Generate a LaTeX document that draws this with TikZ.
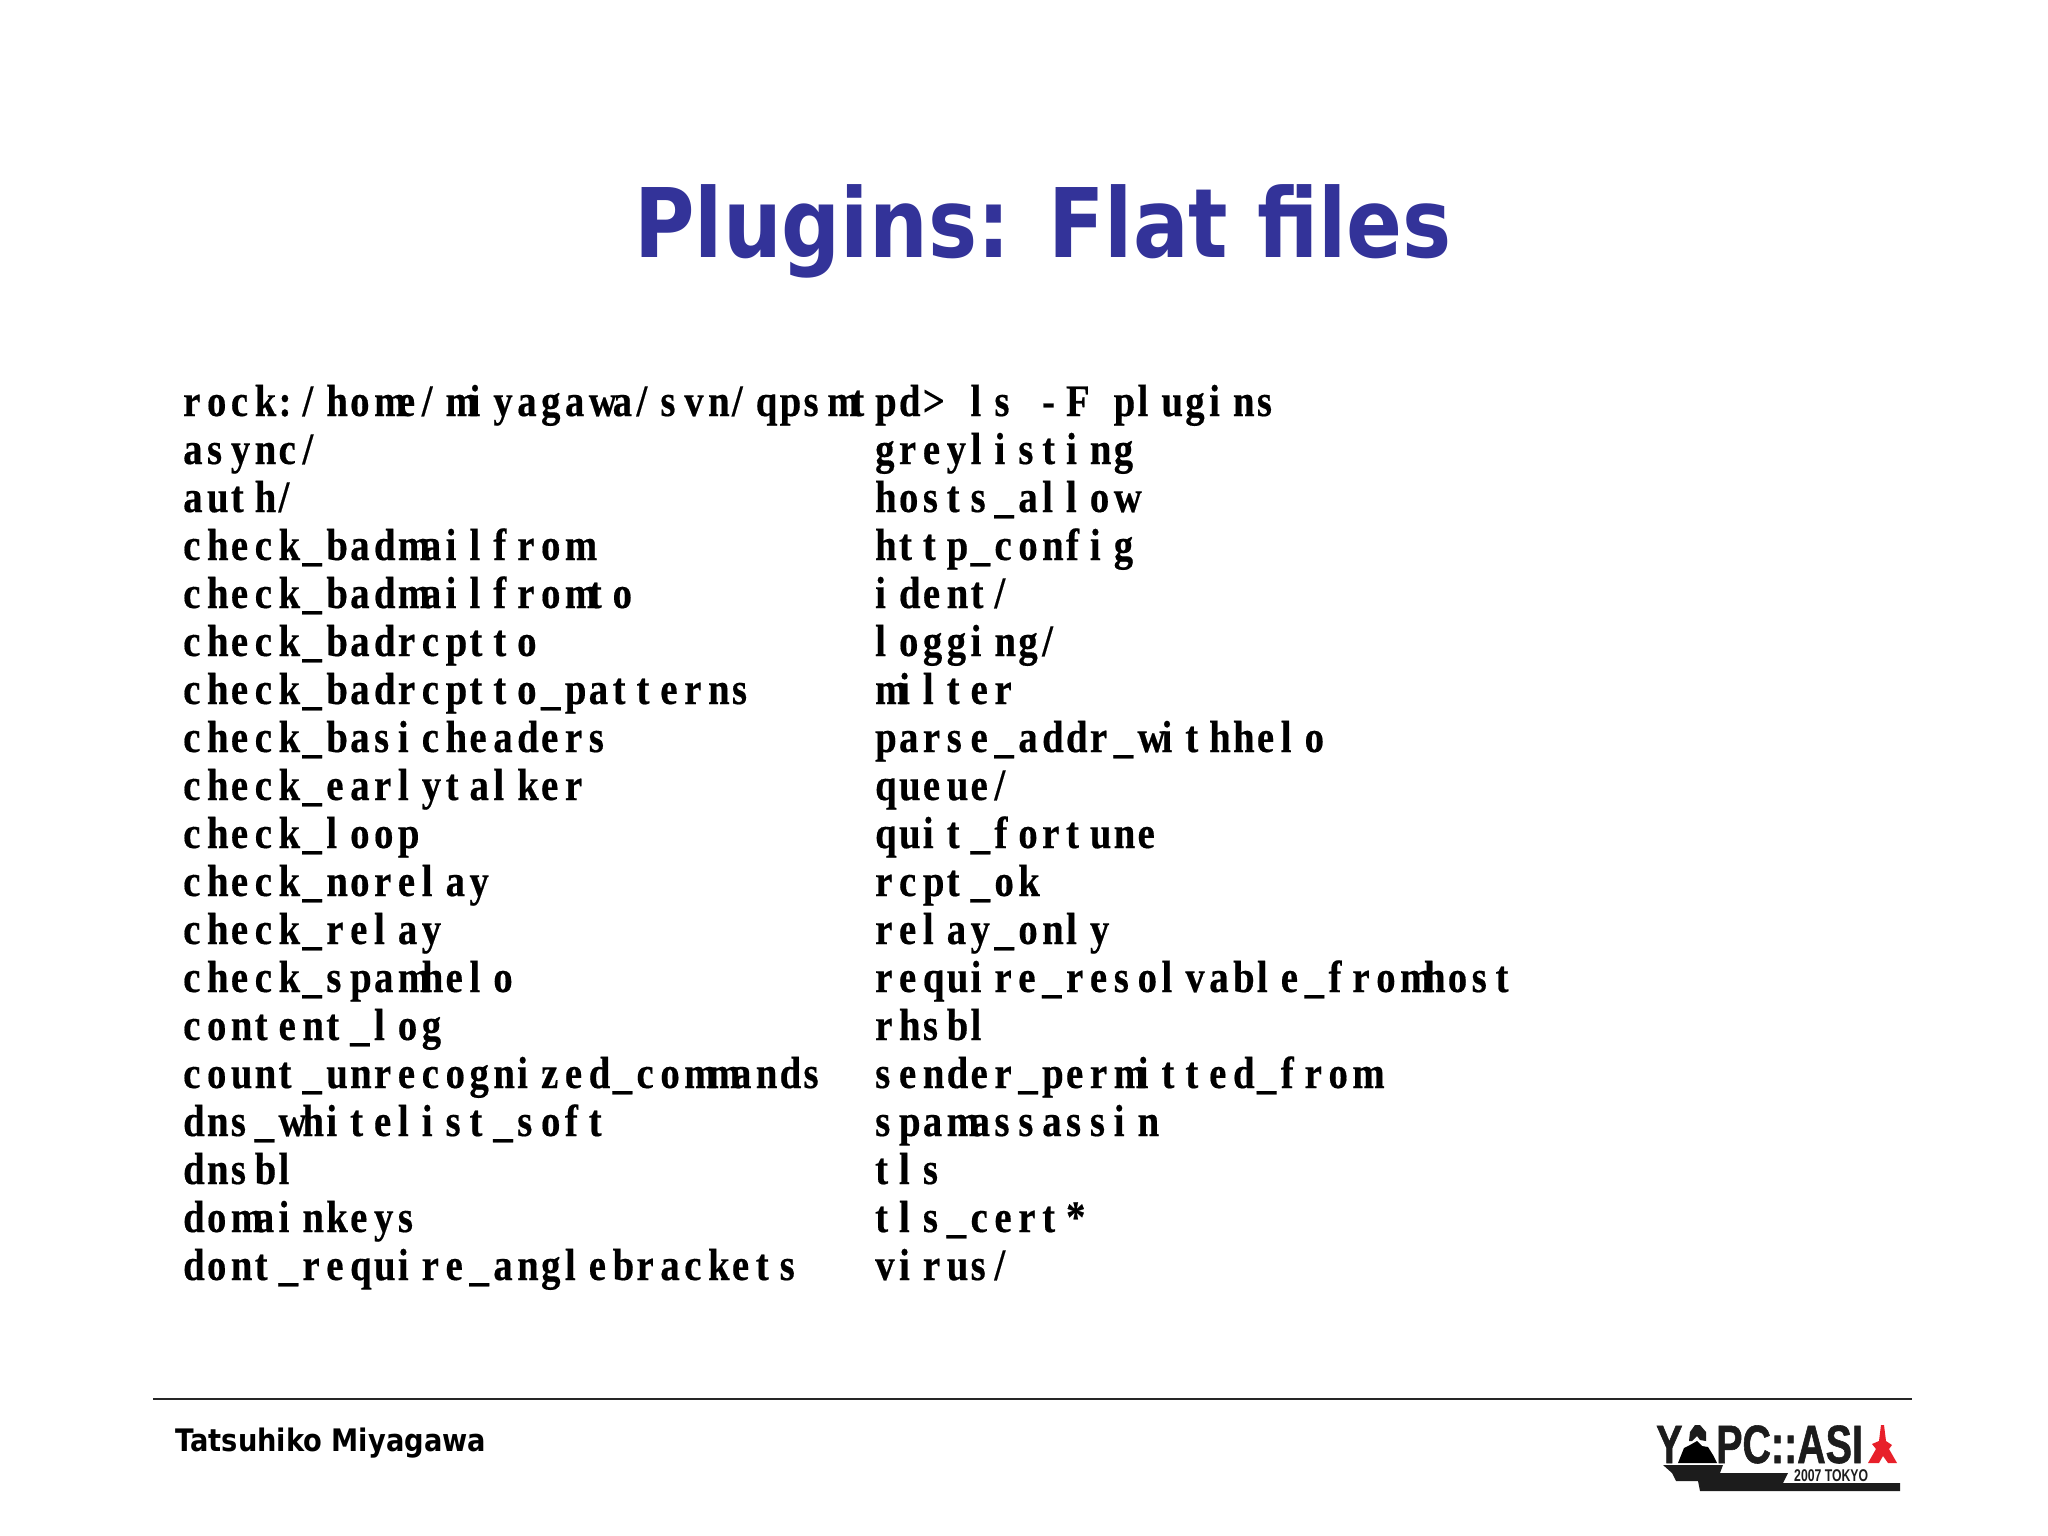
\documentclass[tikz,border=0pt]{standalone}
\usepackage{fontspec}
\usepackage{graphicx}
\setmainfont{Liberation Serif}
\newfontfamily\listfont[FakeStretch=0.86,FakeBold=0.4]{Liberation Serif Bold}
\newfontfamily\headfont[FakeStretch=0.86]{DejaVu Sans Bold}
\newfontfamily\footfont[FakeStretch=0.88]{DejaVu Sans Bold}
\newfontfamily\logofont[FakeStretch=0.73,FakeBold=1]{Liberation Sans Bold}
\newfontfamily\yearfont[FakeStretch=0.72]{Liberation Sans Bold}
\newlength\cellw
\setlength\cellw{23.86pt}
\ExplSyntaxOn
\NewDocumentCommand\cells{m}{\str_map_inline:nn{#1}{\makebox[\cellw][l]{##1}}}
\ExplSyntaxOff
\definecolor{titleblue}{HTML}{333399}
\definecolor{towerred}{HTML}{E8202A}
\definecolor{logoblack}{HTML}{1C1C1C}
\tikzset{
  listrow/.style={anchor=base west,inner sep=0pt,font=\listfont\fontsize{45}{48}\selectfont,text=black},
  titletext/.style={anchor=base,inner sep=0pt,font=\headfont\fontsize{96}{100}\selectfont,text=titleblue},
  foottext/.style={anchor=base west,inner sep=0pt,font=\footfont\fontsize{31}{36}\selectfont,text=black},
  logotext/.style={anchor=base west,inner sep=0pt,font=\logofont\fontsize{54}{56}\selectfont,text=logoblack},
  logosmall/.style={anchor=base west,inner sep=0pt,font=\yearfont\fontsize{17}{17}\selectfont,text=logoblack},
}
\begin{document}
\begin{tikzpicture}[x=1pt,y=-1pt]
\useasboundingbox[fill=white] (0,0) rectangle (2048,1536);
\node[titletext] (title) at (1043,257) {Plugins: Flat files};
\node[listrow] (h) at (183,416) {\cells{rock:/home/miyagawa/svn/qpsmtpd> ls -F plugins}};
\node[listrow] (a1) at (183,464) {\cells{async/}};
\node[listrow] (a2) at (183,512) {\cells{auth/}};
\node[listrow] (a3) at (183,560) {\cells{check_badmailfrom}};
\node[listrow] (a4) at (183,608) {\cells{check_badmailfromto}};
\node[listrow] (a5) at (183,656) {\cells{check_badrcptto}};
\node[listrow] (a6) at (183,704) {\cells{check_badrcptto_patterns}};
\node[listrow] (a7) at (183,752) {\cells{check_basicheaders}};
\node[listrow] (a8) at (183,800) {\cells{check_earlytalker}};
\node[listrow] (a9) at (183,848) {\cells{check_loop}};
\node[listrow] (a10) at (183,896) {\cells{check_norelay}};
\node[listrow] (a11) at (183,944) {\cells{check_relay}};
\node[listrow] (a12) at (183,992) {\cells{check_spamhelo}};
\node[listrow] (a13) at (183,1040) {\cells{content_log}};
\node[listrow] (a14) at (183,1088) {\cells{count_unrecognized_commands}};
\node[listrow] (a15) at (183,1136) {\cells{dns_whitelist_soft}};
\node[listrow] (a16) at (183,1184) {\cells{dnsbl}};
\node[listrow] (a17) at (183,1232) {\cells{domainkeys}};
\node[listrow] (a18) at (183,1280) {\cells{dont_require_anglebrackets}};
\node[listrow] (b1) at (875,464) {\cells{greylisting}};
\node[listrow] (b2) at (875,512) {\cells{hosts_allow}};
\node[listrow] (b3) at (875,560) {\cells{http_config}};
\node[listrow] (b4) at (875,608) {\cells{ident/}};
\node[listrow] (b5) at (875,656) {\cells{logging/}};
\node[listrow] (b6) at (875,704) {\cells{milter}};
\node[listrow] (b7) at (875,752) {\cells{parse_addr_withhelo}};
\node[listrow] (b8) at (875,800) {\cells{queue/}};
\node[listrow] (b9) at (875,848) {\cells{quit_fortune}};
\node[listrow] (b10) at (875,896) {\cells{rcpt_ok}};
\node[listrow] (b11) at (875,944) {\cells{relay_only}};
\node[listrow] (b12) at (875,992) {\cells{require_resolvable_fromhost}};
\node[listrow] (b13) at (875,1040) {\cells{rhsbl}};
\node[listrow] (b14) at (875,1088) {\cells{sender_permitted_from}};
\node[listrow] (b15) at (875,1136) {\cells{spamassassin}};
\node[listrow] (b16) at (875,1184) {\cells{tls}};
\node[listrow] (b17) at (875,1232) {\cells{tls_cert*}};
\node[listrow] (b18) at (875,1280) {\cells{virus/}};
% footer
\draw[line width=2pt,draw=black!85] (153,1399) -- (1912,1399);
\node[foottext] (author) at (175,1451) {Tatsuhiko Miyagawa};
% logo
\node[logotext] (logoy) at (1656,1463) {Y};
\fill[logoblack] (1690,1432) -- (1695,1425) -- (1700,1425) -- (1706,1432) -- (1706,1441) -- (1700,1440) -- (1697,1436) -- (1692,1441) -- (1689,1441) -- cycle;
\fill[black] (1678,1463) -- (1684,1448) -- (1690,1445) -- (1697,1441) -- (1702,1446) -- (1708,1447) -- (1713,1455) -- (1717,1463) -- cycle;
\node[logotext] (logopc) at (1716,1463) {PC::ASI};
\fill[towerred] (1881,1425) -- (1884,1425) -- (1886,1441) -- (1892,1445) -- (1889,1449) -- (1897,1463) -- (1888,1463) -- (1883,1456) -- (1879,1463) -- (1868,1463) -- (1876,1449) -- (1872,1444) -- (1879,1441) -- cycle;
\fill[logoblack] (1663,1465) -- (1723,1465) -- (1720,1473) -- (1788,1473) -- (1783,1483) -- (1900,1483) -- (1900,1491) -- (1700,1491) -- (1698,1481) -- (1676,1481) -- (1672,1473) -- cycle;
\node[logosmall] (logoyear) at (1794,1481) {2007 TOKYO};
\end{tikzpicture}
\end{document}
